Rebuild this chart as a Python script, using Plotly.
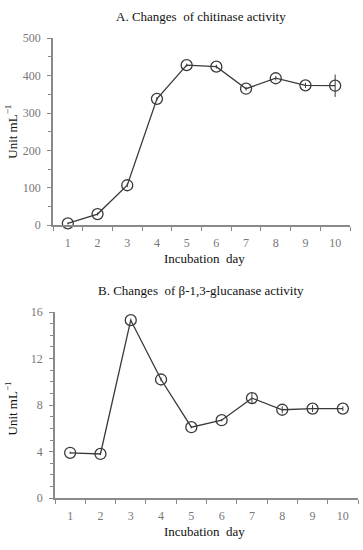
import plotly.graph_objects as go

days = [1, 2, 3, 4, 5, 6, 7, 8, 9, 10]
chitinase = [5, 30, 107, 338, 428, 424, 365, 393, 374, 373]
chitinase_err = [3, 4, 5, 5, 4, 5, 5, 6, 7, 30]
glucanase = [3.9, 3.8, 15.3, 10.2, 6.1, 6.7, 8.6, 7.6, 7.7, 7.7]
glucanase_err = [0.1, 0.1, 0.15, 0.15, 0.1, 0.1, 0.45, 0.3, 0.3, 0.2]
titles = ["A. Changes  of chitinase activity", "B. Changes  of β-1,3-glucanase activity"]
xlabel = "Incubation  day"
ylabel = "Unit mL<sup>−1</sup>"

FONT = "Liberation Serif, Times New Roman, serif"
LINE = "#3a3a3a"
AX = "#8a8a8a"
TXT = "#777777"

fig = go.Figure()

def add(y, err, xa, ya):
    fig.add_trace(go.Scatter(
        x=days, y=y, xaxis=xa, yaxis=ya, mode="lines+markers",
        line=dict(color=LINE, width=1.3),
        marker=dict(symbol="circle-open", size=11, color=LINE, line=dict(width=1.3)),
        error_y=dict(type="data", array=err, color=LINE, thickness=1, width=0),
        showlegend=False, cliponaxis=False))

add(chitinase, chitinase_err, "x", "y")
add(glucanase, glucanase_err, "x2", "y2")

xcommon = dict(range=[0.5, 10.5], tickmode="array", tickvals=days, ticks="", showline=True,
               linecolor=AX, linewidth=1.5, showgrid=False, zeroline=False, ticklabelstandoff=6,
               tickfont=dict(family=FONT, size=12, color=TXT),
               minor=dict(tickmode="linear", tick0=0.5, dtick=1, ticks="outside",
                          ticklen=4, tickcolor=AX, tickwidth=1.2, showgrid=False))
ycommon = dict(ticks="outside", ticklen=4, tickcolor=AX, tickwidth=1.2, showline=True, linecolor=AX, linewidth=1.5,
               showgrid=False, zeroline=False, tickfont=dict(family=FONT, size=12, color=TXT), ticklabelstandoff=4)

fig.update_layout(
    width=363, height=550, margin=dict(l=0, r=0, t=0, b=0),
    plot_bgcolor="white", paper_bgcolor="white",
    xaxis=dict(domain=[53/363, 350/363], anchor="y", **xcommon),
    xaxis2=dict(domain=[55/363, 358/363], anchor="y2", **xcommon),
    yaxis=dict(domain=[1-224/550, 1-32/550], anchor="x", range=[0, 500], tickvals=[0, 100, 200, 300, 400, 500],
               minor=dict(tickmode="linear", tick0=0, dtick=50, ticks="outside", ticklen=3, tickcolor=AX, showgrid=False),
               **ycommon),
    yaxis2=dict(domain=[1-504/550, 1-313/550], anchor="x2", range=[0, 16], tickvals=[0, 4, 8, 12, 16],
               minor=dict(tickmode="linear", tick0=0, dtick=1, ticks="outside", ticklen=3, tickcolor=AX, showgrid=False),
               **ycommon),
)

ann = []
for t, ytop in zip(titles, [10, 291]):
    ann.append(dict(text=t, x=201/363, y=1-ytop/550, xref="paper", yref="paper", showarrow=False,
                    font=dict(family=FONT, size=13, color="#111"), xanchor="center", yanchor="middle"))
for yy in [258, 538]:
    ann.append(dict(text=xlabel, x=204/363, y=1-yy/550, xref="paper", yref="paper", showarrow=False,
                    font=dict(family=FONT, size=13, color="#111"), xanchor="center", yanchor="middle"))
for yy in [128, 412]:
    ann.append(dict(text=ylabel, x=11/363, y=1-yy/550, xref="paper", yref="paper", showarrow=False, textangle=-90,
                    font=dict(family=FONT, size=13, color="#111"), xanchor="center", yanchor="middle"))
fig.update_layout(annotations=ann)

fig.write_html("out.html", config={"displayModeBar": False},
               post_script="document.body.style.margin='0';document.body.style.overflow='hidden';")
